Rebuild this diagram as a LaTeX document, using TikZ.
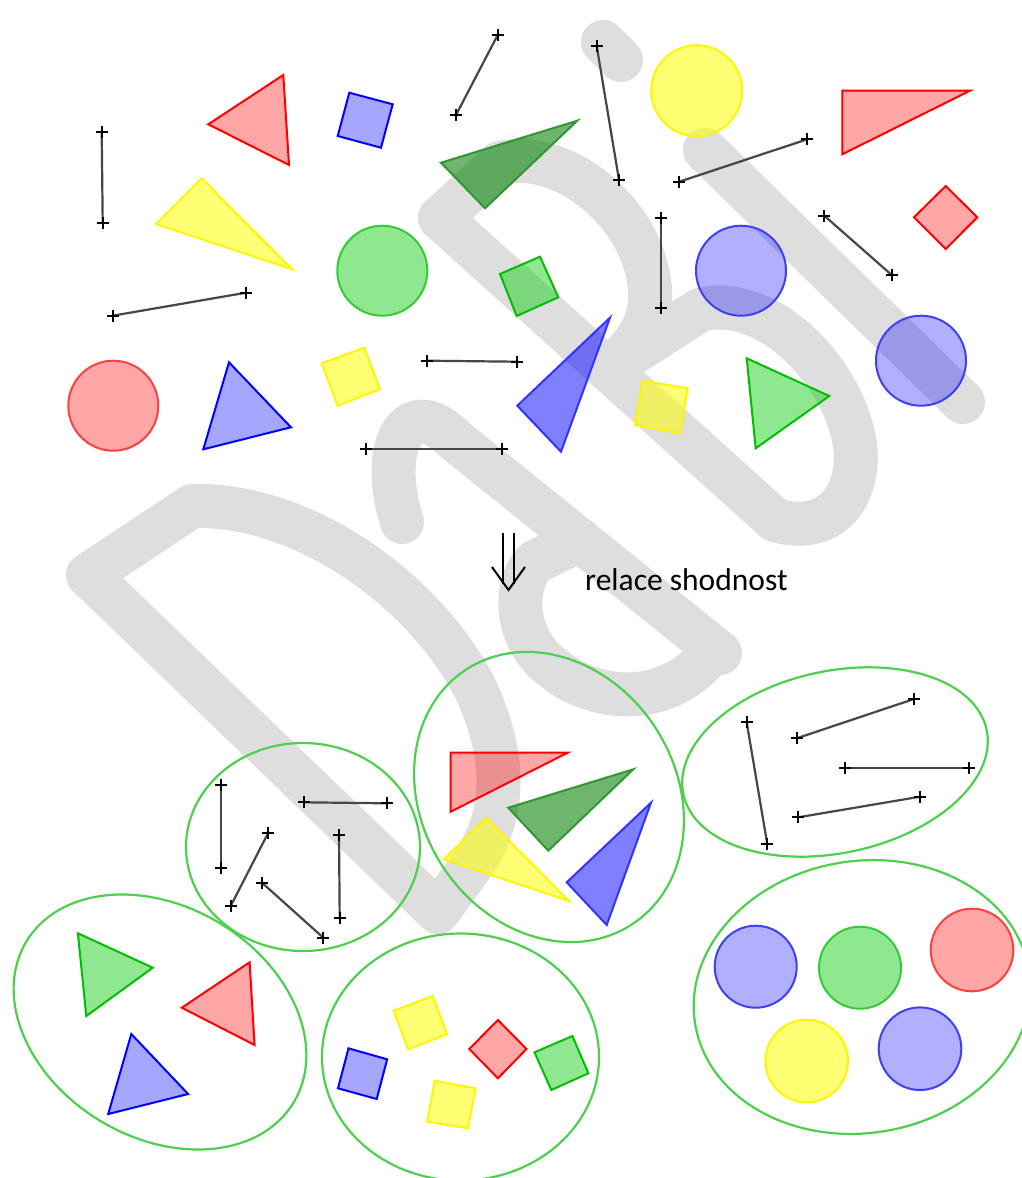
\documentclass[tikz,border=0pt]{standalone}
\usepackage{fontspec}
\setmainfont{Carlito}
\definecolor{wmgray}{RGB}{222,222,222}
\definecolor{segcol}{RGB}{70,70,70}
\definecolor{grpcol}{RGB}{77,208,77}
\definecolor{redc}{RGB}{255,0,0}
\definecolor{redcirc}{RGB}{255,64,64}
\definecolor{bluec}{RGB}{0,0,255}
\definecolor{bluedk}{RGB}{51,51,255}
\definecolor{bluecirc}{RGB}{64,64,240}
\definecolor{yelc}{RGB}{255,255,0}
\definecolor{yelline}{RGB}{255,245,0}
\definecolor{grnfill}{RGB}{0,204,0}
\definecolor{grnline}{RGB}{0,190,0}
\definecolor{grncirc}{RGB}{51,204,51}
\definecolor{dkgfill}{RGB}{0,128,0}
\definecolor{dkgline}{RGB}{50,150,50}
\newcommand\seg[3]{%
  \coordinate (#1a) at (#2);
  \coordinate (#1b) at (#3);
  \draw[segline] (#1a) -- (#1b);
  \draw[crossmk] (#1a) +(-6,0) -- +(6,0) +(0,-6) -- +(0,6);
  \draw[crossmk] (#1b) +(-6,0) -- +(6,0) +(0,-6) -- +(0,6);
}
\begin{document}
\begin{tikzpicture}[x=1pt,y=-1pt,
  wm/.style={draw=wmgray, line width=44pt, line cap=round, line join=round},
  shp/.style={line width=2pt},
  redshp/.style={shp, draw=redc, fill=redc, fill opacity=0.35},
  redcircle/.style={shp, draw=redcirc, fill=redc, fill opacity=0.35},
  blueshp/.style={shp, draw=bluec, fill=bluec, fill opacity=0.35},
  bluedark/.style={shp, draw=bluedk, fill=bluec, fill opacity=0.5},
  bluecircle/.style={shp, draw=bluecirc, fill=bluec, fill opacity=0.31},
  yelshp/.style={shp, draw=yelline, fill=yelc, fill opacity=0.55},
  grnshp/.style={shp, draw=grnline, fill=grnfill, fill opacity=0.44},
  grncircle/.style={shp, draw=grncirc, fill=grnfill, fill opacity=0.44},
  dkgshp/.style={shp, draw=dkgline, fill=dkgfill, fill opacity=0.57},
  grp/.style={draw=grpcol, line width=2.2pt},
  segline/.style={draw=segcol, line width=2.2pt},
  crossmk/.style={draw=black, line width=1.7pt},
  lbl/.style={anchor=base west, inner sep=0pt, font=\fontsize{31.5}{36}\selectfont}
]
\fill[white] (0,0) rectangle (1022,1178);
\useasboundingbox (0,0) rectangle (1022,1178);

% ---------- watermark ----------
% D
\draw[wm] (88,575) -- (192,506) .. controls (300,503) and (420,585) .. (474,686)
  .. controls (507,755) and (507,815) .. (472,865) -- (438,912) -- cycle;
% a
\draw[wm] (402,522) .. controls (378,445) and (408,392) .. (455,440) -- (720,653);
\draw[wm] (580,540) -- (535,562) .. controls (512,585) and (515,640) .. (552,667)
  .. controls (590,700) and (665,712) .. (712,652);
% B
\draw[wm] (440,218) -- (775,520);
\draw[wm] (440,218) -- (500,163) .. controls (565,148) and (645,215) .. (650,290)
  .. controls (652,330) and (630,350) .. (608,369);
\draw[wm] (608,369) -- (700,310) .. controls (780,290) and (865,400) .. (855,470)
  .. controls (848,515) and (815,532) .. (775,520);
% i
\draw[wm] (603,42) -- (621,60);
\draw[wm] (705,150) -- (963,402);

% ---------- group ellipses ----------
\draw[grp] (303,847) ellipse [x radius=117pt, y radius=104pt];
\draw[grp, rotate around={33:(549,797)}] (549,797) ellipse [x radius=127pt, y radius=152pt];
\draw[grp, rotate around={12:(835,762)}] (835,762) ellipse [x radius=155pt, y radius=91pt];
\draw[grp, rotate around={-31:(160,1022)}] (160,1022) ellipse [x radius=156pt, y radius=115.5pt];
\draw[grp] (460.5,1057) ellipse [x radius=138.5pt, y radius=123.5pt];
\draw[grp, rotate around={9:(862,997)}] (862,997) ellipse [x radius=169pt, y radius=136pt];

% ---------- top shapes ----------
\filldraw[redshp] (208.3,124.3) -- (283.3,75) -- (289,165) -- cycle;
\filldraw[blueshp] (349.3,92.7) -- (392.7,104.3) -- (381,147.7) -- (337.7,136) -- cycle;
\filldraw[dkgshp] (441,162.7) -- (577.3,120.7) -- (485,208.3) -- cycle;
\filldraw[yelshp] (201.7,178.3) -- (156,224) -- (292.3,269.3) -- cycle;
\filldraw[grncircle] (382.3,270.7) circle [radius=45pt];
\filldraw[grnshp] (500,274) -- (540,256.7) -- (558.3,297.3) -- (516.7,316) -- cycle;
\filldraw[redcircle] (113.3,405.7) circle [radius=45pt];
\filldraw[blueshp] (229,362.3) -- (291,427.3) -- (203.3,449.3) -- cycle;
\filldraw[yelshp] (321.7,363.3) -- (364.3,347.7) -- (380,389.3) -- (337.7,405.7) -- cycle;
\filldraw[bluedark] (517.3,405.7) -- (610,317.7) -- (561,451.7) -- cycle;
\filldraw[yelshp] (696.7,90.7) circle [radius=45.5pt];
\filldraw[redshp] (842.3,90.7) -- (970,90.7) -- (842.3,154.3) -- cycle;
\filldraw[bluecircle] (741,270.7) circle [radius=45pt];
\filldraw[redshp] (945.7,186) -- (977.3,217.3) -- (945.7,249) -- (914,217.3) -- cycle;
\filldraw[bluecircle] (921,360.7) circle [radius=45pt];
\filldraw[yelshp] (642.7,380.7) -- (687.7,388.3) -- (680,433.3) -- (635,425) -- cycle;
\filldraw[grnshp] (746.7,358.3) -- (829.3,396) -- (755.7,448.3) -- cycle;

% ---------- bottom shapes ----------
\filldraw[redshp] (450.7,752.7) -- (567.7,752.7) -- (450.7,811.7) -- cycle;
\filldraw[dkgshp] (508.3,807.7) -- (633.3,769.3) -- (548.3,850.7) -- cycle;
\filldraw[yelshp] (486,817.7) -- (444,859.3) -- (569,901) -- cycle;
\filldraw[bluedark] (651,802.7) -- (566.7,882.3) -- (606.7,925) -- cycle;

\filldraw[grnshp] (77.9,933.3) -- (152.8,967.7) -- (86.3,1016) -- cycle;
\filldraw[redshp] (249.6,962.3) -- (254.6,1045) -- (181.8,1007.7) -- cycle;
\filldraw[blueshp] (131.3,1034) -- (188.1,1094) -- (108.2,1114) -- cycle;

\filldraw[yelshp] (393.5,1010.7) -- (432.7,996) -- (447,1034.3) -- (408.2,1049.3) -- cycle;
\filldraw[blueshp] (348.5,1048.3) -- (387.2,1059.3) -- (376.7,1099) -- (338,1088.3) -- cycle;
\filldraw[redshp] (497.9,1020) -- (526.5,1049) -- (497.9,1078.3) -- (469.3,1049) -- cycle;
\filldraw[grnshp] (534.5,1052.3) -- (572.4,1036) -- (588.4,1073.3) -- (551.3,1090) -- cycle;
\filldraw[yelshp] (434.8,1080.7) -- (475.6,1088.3) -- (468,1128.3) -- (427.2,1121.7) -- cycle;

\filldraw[bluecircle] (755.7,966.7) circle [radius=41pt];
\filldraw[grncircle] (860,967.7) circle [radius=41pt];
\filldraw[redcircle] (972,950) circle [radius=41.3pt];
\filldraw[yelshp] (806.7,1061) circle [radius=41.3pt];
\filldraw[bluecircle] (920,1048.7) circle [radius=41.3pt];

% ---------- segments ----------
\seg{s1}{101.7,131.7}{102.7,222.7}
\seg{s2}{456,115}{497.7,35}
\seg{s3}{112.7,315.7}{246,292.7}
\seg{s4}{426.7,360.7}{516.7,361.7}
\seg{s5}{366,449}{501.7,449}
\seg{s6}{596.7,46}{619,180}
\seg{s7}{679.3,181.7}{807.3,139.3}
\seg{s8}{661,218.3}{661,308.3}
\seg{s9}{824.3,215.7}{891.7,275}
\seg{s10}{220.7,785}{220.7,867.7}
\seg{s11}{304,802.3}{386.7,803.3}
\seg{s12}{268.3,832.7}{230.7,906}
\seg{s13}{262,882.7}{323.3,937.7}
\seg{s14}{339,835}{339.7,918.3}
\seg{s15}{746.7,722.3}{767.3,844.3}
\seg{s16}{796.7,738.3}{914,699}
\seg{s17}{845,767.7}{969.3,767.7}
\seg{s18}{798.3,817.3}{920,796.7}

% ---------- arrow and label ----------
\coordinate (arL1) at (503,533);
\coordinate (arL2) at (503,584);
\coordinate (arR1) at (514,533);
\coordinate (arR2) at (514,584);
\coordinate (arA) at (492,567);
\coordinate (arT) at (508.5,590);
\coordinate (arB) at (525,567);
\draw[line width=2pt] (arL1) -- (arL2) (arR1) -- (arR2);
\draw[line width=2pt, line join=miter] (arA) -- (arT) -- (arB);
\node[lbl] (label) at (585,590) {relace shodnost};
\end{tikzpicture}
\end{document}
